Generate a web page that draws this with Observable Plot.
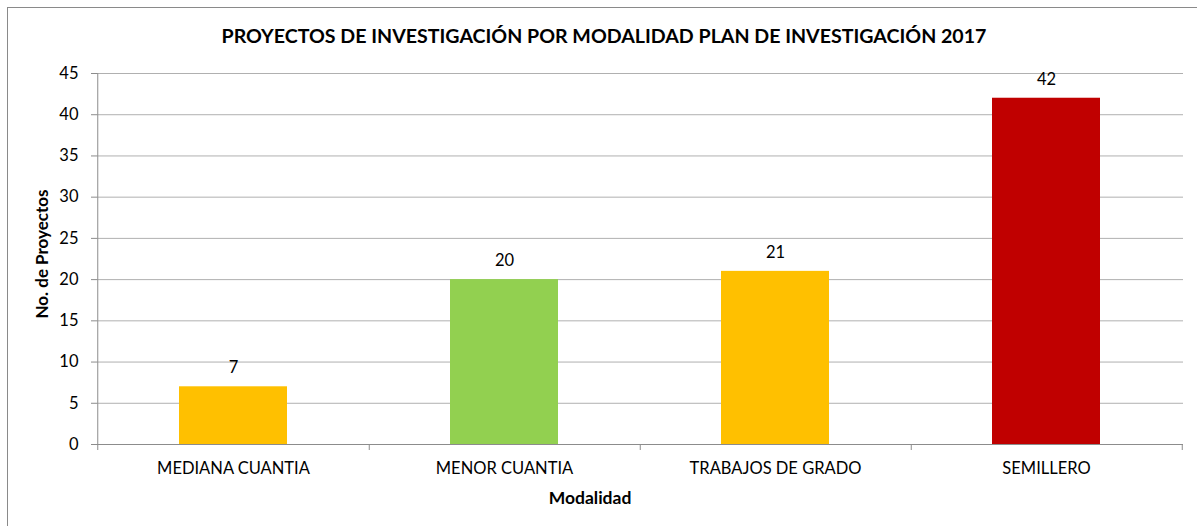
<!DOCTYPE html>
<html>
<head>
<meta charset="utf-8">
<script src="https://cdn.jsdelivr.net/npm/d3@7"></script>
<script src="https://cdn.jsdelivr.net/npm/@observablehq/plot@0.6"></script>
<style>
  html, body { margin: 0; padding: 0; background: #fff; }
  body { width: 1197px; height: 526px; position: relative; overflow: hidden; font-family: Lato, "Open Sans", sans-serif; }
  #frame { position: absolute; left: 7px; top: 7px; width: 1220px; height: 560px; border: 1px solid #8a8a8a; box-sizing: border-box; }
  #title { position: absolute; left: 9px; width: 1190px; top: 24px; text-align: center; font-weight: 700; font-size: 19.6px; color: #000; white-space: nowrap; }
  #chart { position: absolute; left: 0; top: 0; }
  #xlabel { position: absolute; left: 490px; width: 200px; top: 487px; text-align: center; font-weight: 700; font-size: 17.5px; }
  #ylabel { position: absolute; left: 41px; top: 254px; transform: translate(-50%, -50%) rotate(-90deg); font-weight: 700; font-size: 17px; white-space: nowrap; }
</style>
</head>
<body>
<div id="frame"></div>
<div id="chart"></div>
<div id="title">PROYECTOS DE INVESTIGACIÓN POR MODALIDAD PLAN DE INVESTIGACIÓN 2017</div>
<div id="xlabel">Modalidad</div>
<div id="ylabel">No. de Proyectos</div>
<script>
const categories = ["MEDIANA CUANTIA", "MENOR CUANTIA", "TRABAJOS DE GRADO", "SEMILLERO"];
const values = [7, 20, 21, 42];
const barColors = ["#FFC000", "#92D050", "#FFC000", "#C00000"];
const yTicks = [0, 5, 10, 15, 20, 25, 30, 35, 40, 45];

const data = categories.map((c, i) => ({category: c, value: values[i], color: barColors[i]}));
const step = (1183 - 97) / 4;

const chart = Plot.plot({
  width: 1197,
  height: 526,
  marginLeft: 97,
  marginRight: 14,
  marginTop: 73,
  marginBottom: 82,
  style: {fontFamily: "Lato, 'Open Sans', sans-serif", fontSize: "16px", color: "#000", background: "transparent"},
  x: {domain: categories, paddingInner: 0.6, paddingOuter: 0.3, label: null, axis: null},
  y: {domain: [0, 45], label: null, axis: null},
  marks: [
    Plot.gridY(yTicks, {stroke: "#b0b0b0", strokeOpacity: 1, strokeWidth: 1}),
    Plot.barY(data, {x: "category", y: "value", fill: "color"}),
    Plot.ruleY([0], {stroke: "#8c8c8c", strokeWidth: 1}),
    Plot.ruleX([categories[0]], {dx: -step / 2, y1: 0, y2: 45, stroke: "#8c8c8c"}),
    Plot.axisY(yTicks, {anchor: "left", tickSize: 6, tickPadding: 13, stroke: "#8c8c8c", fontSize: 16.5, label: null}),
    Plot.axisX({anchor: "bottom", tickSize: 0, tickPadding: 18, fontSize: 16.5, label: null}),
    Plot.axisX({anchor: "bottom", tickSize: 6, dx: step / 2, tickFormat: () => "", stroke: "#8c8c8c", label: null}),
    Plot.axisX([categories[0]], {anchor: "bottom", tickSize: 6, dx: -step / 2, tickFormat: () => "", stroke: "#8c8c8c", label: null}),
    Plot.text(data, {x: "category", y: "value", text: d => String(d.value), dy: -19, fontSize: 16.5, fill: "#000"})
  ]
});
document.getElementById("chart").appendChild(chart);
</script>
</body>
</html>
